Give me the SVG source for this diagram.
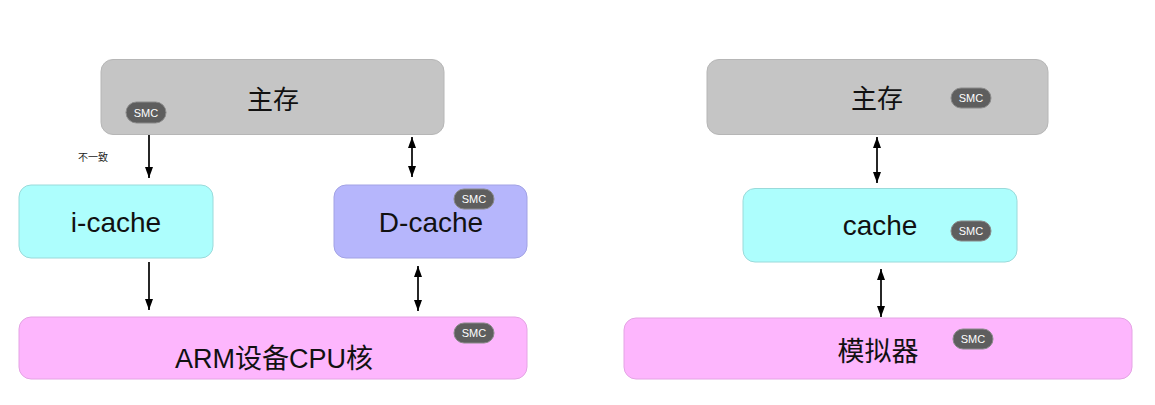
<svg xmlns="http://www.w3.org/2000/svg" width="1155" height="405" viewBox="0 0 1155 405">
<style>
.box{stroke-width:1}
.gray{fill:#c5c5c5;stroke:#b6b6b6}
.cyan{fill:#adfefd;stroke:#9adada}
.blue{fill:#b6b6fc;stroke:#a2a2e4}
.pink{fill:#fdb6fd;stroke:#e4a4e4}
.lbl{font-family:"Liberation Sans","Noto Sans CJK SC",sans-serif;font-size:26px;fill:#111;text-anchor:middle}
.lat{font-size:28px}
.pill{fill:#5e5e5e;stroke:#8a8a8a;stroke-width:1}
.pt{font-family:"Liberation Sans","Noto Sans CJK SC",sans-serif;font-size:11px;fill:#fff;text-anchor:middle}
.small{font-family:"Noto Sans CJK SC","Liberation Sans",sans-serif;font-size:10px;fill:#222}
.c{stroke:#000;stroke-width:1.7;fill:none}
</style>
<defs>
<marker id="ah" viewBox="0 0 11 8" refX="11" refY="4" markerWidth="11" markerHeight="8" markerUnits="userSpaceOnUse" orient="auto-start-reverse">
<path d="M0,0 L11,4 L0,8 Z" fill="#000"/>
</marker>
</defs>
<rect width="1155" height="405" fill="#fff"/>

<g id="connectors">
<line class="c" x1="149" y1="135" x2="149" y2="178" marker-end="url(#ah)"/>
<line class="c" x1="412" y1="137" x2="412" y2="177" marker-start="url(#ah)" marker-end="url(#ah)"/>
<line class="c" x1="149" y1="262" x2="149" y2="310" marker-end="url(#ah)"/>
<line class="c" x1="418" y1="266" x2="418" y2="311" marker-start="url(#ah)" marker-end="url(#ah)"/>
<line class="c" x1="877" y1="137" x2="877" y2="183" marker-start="url(#ah)" marker-end="url(#ah)"/>
<line class="c" x1="881" y1="269" x2="881" y2="317" marker-start="url(#ah)" marker-end="url(#ah)"/>
<text class="small" x="78" y="161">不一致</text>
</g>

<g id="mem-left">
<rect class="box gray" x="101" y="59.5" width="343" height="75" rx="12"/>
<text class="lbl" x="273" y="109">主存</text>
<rect class="pill" x="126" y="102" width="40" height="21" rx="10.5"/>
<text class="pt" x="146" y="116.5">SMC</text>
</g>

<g id="icache">
<rect class="box cyan" x="19" y="185" width="194" height="73" rx="12"/>
<text class="lbl lat" x="116" y="232">i-cache</text>
</g>

<g id="dcache">
<rect class="box blue" x="334" y="185" width="193" height="73" rx="12"/>
<text class="lbl lat" x="431" y="232">D-cache</text>
<rect class="pill" x="454" y="189" width="40" height="20" rx="10"/>
<text class="pt" x="474" y="203">SMC</text>
</g>

<g id="arm">
<rect class="box pink" x="19" y="317" width="508" height="62" rx="12"/>
<text class="lbl" x="274" y="368" style="font-size:27px">ARM设备CPU核</text>
<rect class="pill" x="454" y="323" width="40" height="20" rx="10"/>
<text class="pt" x="474" y="337">SMC</text>
</g>

<g id="mem-right">
<rect class="box gray" x="707" y="59.5" width="341" height="75" rx="12"/>
<text class="lbl" x="877" y="108">主存</text>
<rect class="pill" x="951" y="88" width="40" height="20" rx="10"/>
<text class="pt" x="971" y="102">SMC</text>
</g>

<g id="cache">
<rect class="box cyan" x="743" y="188.5" width="274" height="73.5" rx="12"/>
<text class="lbl lat" x="880" y="235">cache</text>
<rect class="pill" x="951" y="221" width="40" height="20" rx="10"/>
<text class="pt" x="971" y="235">SMC</text>
</g>

<g id="simulator">
<rect class="box pink" x="624" y="318" width="508" height="61" rx="12"/>
<text class="lbl" x="878" y="361" style="font-size:27px">模拟器</text>
<rect class="pill" x="953" y="329" width="40" height="20" rx="10"/>
<text class="pt" x="973" y="343">SMC</text>
</g>
</svg>
